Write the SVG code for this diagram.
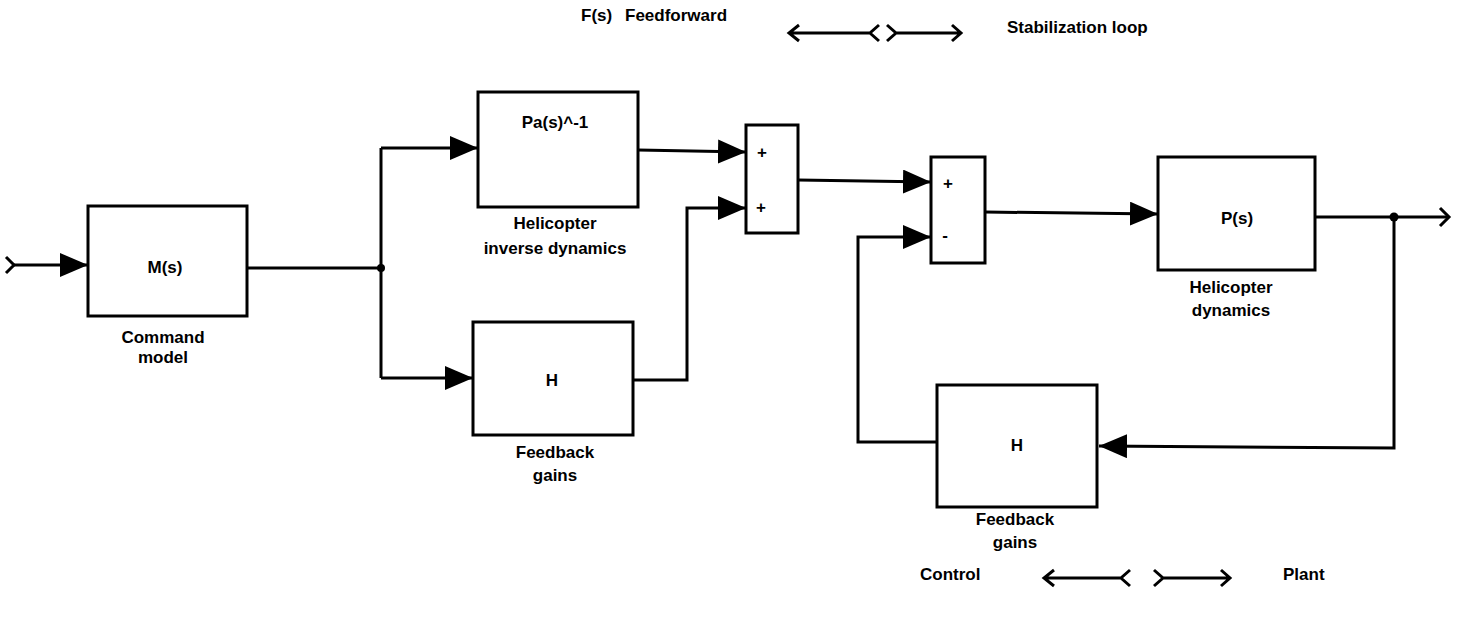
<svg xmlns="http://www.w3.org/2000/svg" width="1460" height="618" viewBox="0 0 1460 618">
<style>
.box{fill:#fff;stroke:#000;stroke-width:3}
.ln{fill:none;stroke:#000;stroke-width:3;stroke-linejoin:miter}
.t{font-family:"Liberation Sans",Arial,sans-serif;font-weight:bold;font-size:17px;fill:#000;text-anchor:middle}
.s{font-family:"Liberation Sans",Arial,sans-serif;font-weight:bold;font-size:17px;fill:#000;text-anchor:middle}
</style>
<defs>
<marker id="ah" markerUnits="userSpaceOnUse" markerWidth="30" markerHeight="26" refX="28" refY="12" orient="auto">
<path d="M0,0 L28,12 L0,24 z" fill="#000"/>
</marker>
</defs>
<rect width="1460" height="618" fill="#fff"/>

<g id="legend-top">
<text class="t" x="581" y="21" style="text-anchor:start">F(s)</text>
<text class="t" x="625" y="21" style="text-anchor:start">Feedforward</text>
<text class="t" x="1007" y="33" style="text-anchor:start">Stabilization loop</text>
<path class="ln" d="M789,33 L870,33 M799,25 L789,33 L799,41 M879,25 L870,33 L879,41"/>
<path class="ln" d="M887,25 L896,33 L887,41 M896,33 L961,33 M952,25 L961,33 L952,41"/>
</g>

<g id="legend-bottom">
<text class="t" x="920" y="580" style="text-anchor:start">Control</text>
<text class="t" x="1283" y="580" style="text-anchor:start">Plant</text>
<path class="ln" d="M1044,578 L1121,578 M1054,570 L1044,578 L1054,586 M1130,570 L1121,578 L1130,586"/>
<path class="ln" d="M1154,570 L1163,578 L1154,586 M1163,578 L1230,578 M1221,570 L1230,578 L1221,586"/>
</g>

<g id="connectors">
<path class="ln" d="M6,257 L14,265 L6,273"/>
<path class="ln" d="M14,265 L88,265" marker-end="url(#ah)"/>
<path class="ln" d="M247,268 L381,268"/>
<path class="ln" d="M381,148 L381,378"/>
<path class="ln" d="M381,148 L478,148" marker-end="url(#ah)"/>
<path class="ln" d="M381,378 L473,378" marker-end="url(#ah)"/>
<circle cx="381" cy="268" r="4" fill="#000"/>
<path class="ln" d="M638,150 L746,152" marker-end="url(#ah)"/>
<path class="ln" d="M633,380 L687,380 L687,208 L746,208" marker-end="url(#ah)"/>
<path class="ln" d="M798,180 L931,182" marker-end="url(#ah)"/>
<path class="ln" d="M985,212 L1158,214" marker-end="url(#ah)"/>
<path class="ln" d="M1315,217 L1449,217"/>
<path class="ln" d="M1440,208 L1449,217 L1440,226"/>
<circle cx="1394" cy="217" r="4.5" fill="#000"/>
<path class="ln" d="M1394,217 L1394,448 L1099,446" marker-end="url(#ah)"/>
<path class="ln" d="M937,442 L858,442 L858,237 L931,237" marker-end="url(#ah)"/>
</g>

<g id="node-M">
<rect class="box" x="88" y="206" width="159" height="110"/>
<text class="t" x="165" y="273">M(s)</text>
<text class="t" x="163" y="343">Command</text>
<text class="t" x="163" y="363">model</text>
</g>

<g id="node-Pa">
<rect class="box" x="478" y="92" width="160" height="115"/>
<text class="t" x="555" y="128">Pa(s)^-1</text>
<text class="t" x="555" y="229">Helicopter</text>
<text class="t" x="555" y="254">inverse dynamics</text>
</g>

<g id="node-H1">
<rect class="box" x="473" y="322" width="160" height="113"/>
<text class="t" x="552" y="386">H</text>
<text class="t" x="555" y="458">Feedback</text>
<text class="t" x="555" y="481">gains</text>
</g>

<g id="node-sum1">
<rect class="box" x="746" y="125" width="52" height="108"/>
<text class="s" x="762" y="158">+</text>
<text class="s" x="761" y="213">+</text>
</g>

<g id="node-sum2">
<rect class="box" x="931" y="157" width="54" height="106"/>
<text class="s" x="948" y="189">+</text>
<text class="s" x="945" y="241">-</text>
</g>

<g id="node-P">
<rect class="box" x="1158" y="157" width="157" height="113"/>
<text class="t" x="1237" y="224">P(s)</text>
<text class="t" x="1231" y="293">Helicopter</text>
<text class="t" x="1231" y="316">dynamics</text>
</g>

<g id="node-H2">
<rect class="box" x="937" y="385" width="160" height="122"/>
<text class="t" x="1017" y="451">H</text>
<text class="t" x="1015" y="525">Feedback</text>
<text class="t" x="1015" y="548">gains</text>
</g>
</svg>
